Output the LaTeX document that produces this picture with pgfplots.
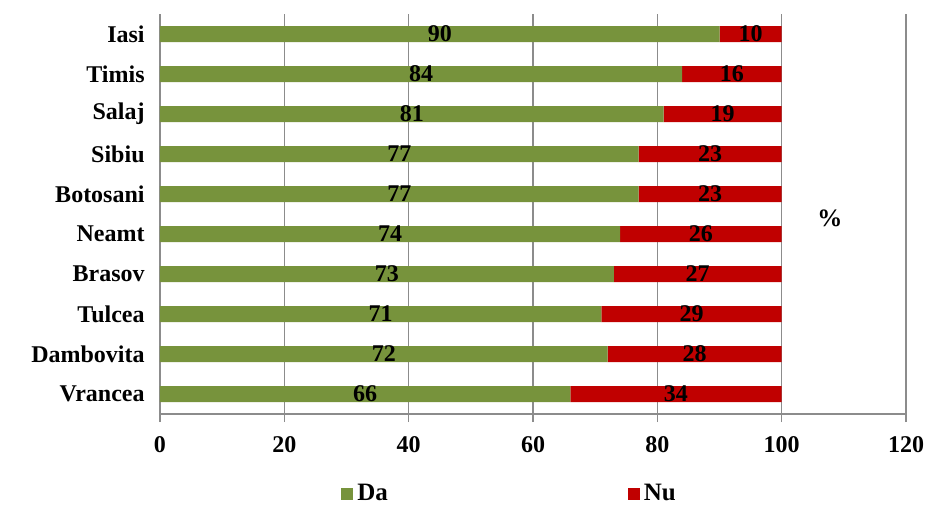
\documentclass[border=0pt]{standalone}
\usepackage{pgfplots}
\usepackage{pgfplotstable}
\pgfplotsset{compat=1.18}
\usepackage{fontspec}
\setmainfont{Liberation Serif}
\definecolor{dagreen}{HTML}{77933C}
\definecolor{nured}{HTML}{C00000}
\definecolor{gridgray}{HTML}{8C8C8C}
\pgfplotstableread{
name da nu
Vrancea 66 34
Dambovita 72 28
Tulcea 71 29
Brasov 73 27
Neamt 74 26
Botosani 77 23
Sibiu 77 23
Salaj 81 19
Timis 84 16
Iasi 90 10
}\data
\begin{document}
\fontsize{12}{14}\selectfont\bfseries
\begin{tikzpicture}
\path[use as bounding box] (-80pt,-45pt) rectangle (382.5pt,207pt);
\begin{axis}[
  scale only axis,
  width=373pt, height=200pt,
  xbar stacked,
  bar width=8pt,
  xmin=0, xmax=120,
  ymin=-0.5, ymax=9.5,
  xtick={0,20,...,120},
  ytick={0,...,9},
  yticklabels from table={\data}{name},
  axis x line*=bottom,
  axis y line*=left,
  axis line style={gridgray, line width=0.8pt},
  xmajorgrids,
  major grid style={gridgray, line width=0.8pt},
  tick style={gridgray, line width=0.8pt},
  xtick align=outside,
  major x tick style={/pgfplots/major tick length=4pt},
  major y tick style={draw=none},
  extra y ticks={-0.5,0.5,...,9.5},
  extra y tick labels={},
  extra y tick style={ytick align=outside, major tick length=3pt, tick style={gridgray, line width=0.8pt}},
  yticklabel style={font=\fontsize{12}{14}\selectfont\bfseries, xshift=-3.5pt},
  xticklabel style={font=\fontsize{12}{14}\selectfont\bfseries, yshift=-3pt},
  /pgf/number format/assume math mode=true,
  nodes near coords,
  point meta=explicit,
  legend style={at={(0.47,-0.155)}, anchor=north, draw=none, legend columns=2,
    font=\fontsize{12.5}{14}\selectfont\bfseries,
    /tikz/every even column/.append style={column sep=118pt}},
  legend image code/.code={\fill[#1] (0pt,-3pt) rectangle (6pt,3pt);},
]
\addplot[fill=dagreen, draw=none,
  every node near coord/.style={anchor=center, text=black,
    font=\fontsize{12}{14}\selectfont\bfseries}]
  table[x=da, y expr=\coordindex, meta=da] {\data};
\addlegendentry{Da}
\addplot[fill=nured, draw=none,
  every node near coord/.style={anchor=center, text=black,
    font=\fontsize{12}{14}\selectfont\bfseries}]
  table[x=nu, y expr=\coordindex, meta=nu] {\data};
\addlegendentry{Nu}
\node[font=\fontsize{12.5}{14}\selectfont\bfseries] at (rel axis cs:0.898,0.49) {\%};
\end{axis}
\end{tikzpicture}
\end{document}
